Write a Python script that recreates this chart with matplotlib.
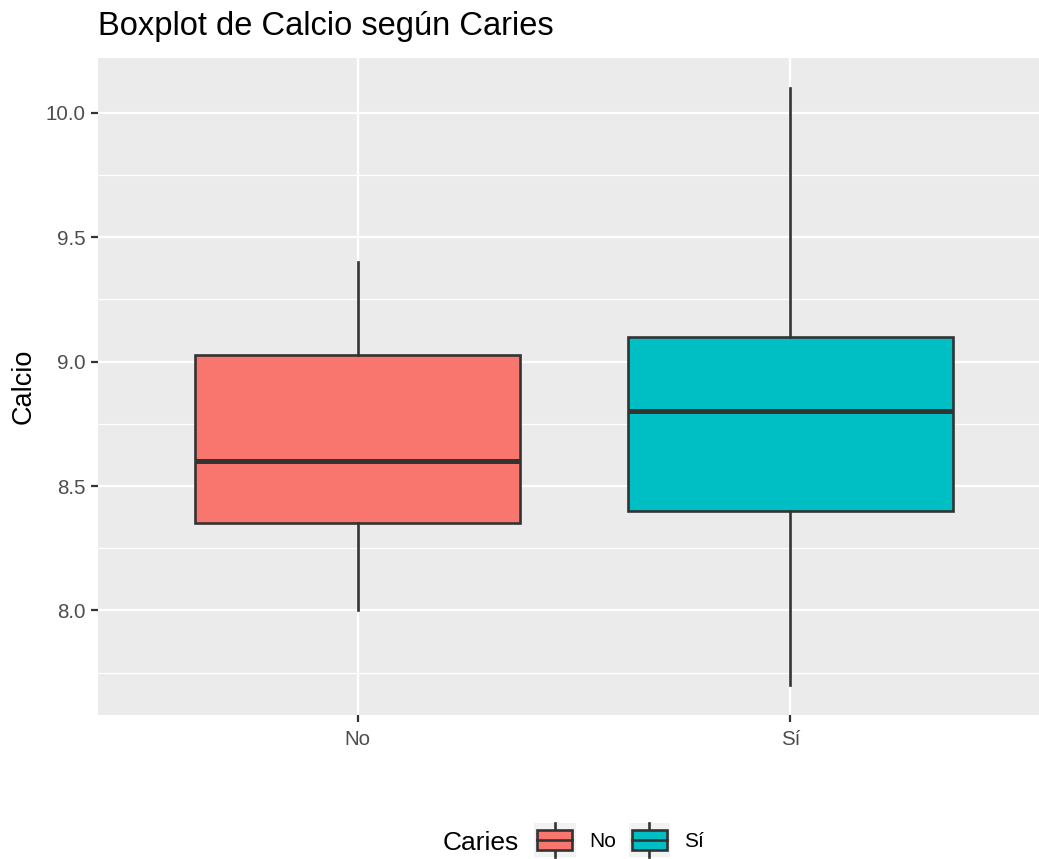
import matplotlib
matplotlib.use("Agg")
import matplotlib.pyplot as plt
from matplotlib.legend_handler import HandlerBase
from matplotlib.patches import Rectangle
from matplotlib.lines import Line2D

plt.rcParams["font.family"] = ["Liberation Sans", "DejaVu Sans"]

# Five-number summaries of Calcio per Caries group
categories = ["No", "Sí"]
whisker_low = [8.00, 7.70]
q1 = [8.35, 8.40]
median = [8.60, 8.80]
q3 = [9.025, 9.10]
whisker_high = [9.40, 10.10]
fill_colors = ["#F8766D", "#00BFC4"]
y_ticks = [8.0, 8.5, 9.0, 9.5, 10.0]
y_minor = [7.75, 8.25, 8.75, 9.25, 9.75]

W, H = 1039, 859
fig = plt.figure(figsize=(W / 100, H / 100), dpi=100)
fig.patch.set_facecolor("white")

# panel runs slightly past the right edge of the canvas
left, right, top, bottom = 98, 1050, 58, 715
ax = fig.add_axes([left / W, 1 - bottom / H, (right - left) / W, (bottom - top) / H])
ax.set_facecolor("#EBEBEB")
for s in ax.spines.values():
    s.set_visible(False)

dark = "#333333"
stats = []
for i, c in enumerate(categories):
    stats.append(dict(label=c, whislo=whisker_low[i], q1=q1[i], med=median[i],
                      q3=q3[i], whishi=whisker_high[i], fliers=[]))
positions = list(range(1, len(categories) + 1))

# grid
for y in y_minor:
    ax.axhline(y, color="white", lw=0.9, zorder=0)
for y in y_ticks:
    ax.axhline(y, color="white", lw=1.6, zorder=0)
for x in positions:
    ax.axvline(x, color="white", lw=1.6, zorder=0)

bp = ax.bxp(stats, positions=positions, widths=0.75, patch_artist=True,
            showcaps=False, showfliers=False,
            boxprops=dict(edgecolor=dark, linewidth=1.9),
            whiskerprops=dict(color=dark, linewidth=1.9),
            medianprops=dict(color=dark, linewidth=3.6, solid_capstyle="butt"),
            zorder=2)
for patch, col in zip(bp["boxes"], fill_colors):
    patch.set_facecolor(col)

ax.set_xlim(0.4, 2.6)
ax.set_ylim(7.58, 10.22)
ax.set_yticks(y_ticks)
ax.set_yticklabels([f"{v:.1f}" for v in y_ticks])
ax.set_xticks(positions)
ax.set_xticklabels(categories)
ax.tick_params(axis="both", colors=dark, length=5, width=1.6, labelsize=14.8,
               labelcolor="#4D4D4D", pad=4)
ax.tick_params(axis="x", pad=5.5)
ax.set_ylabel("Calcio", fontsize=19.5, color="black", labelpad=6.5)
ax.set_xlabel("")

fig.text(left / W, 1 - 27 / H, "Boxplot de Calcio según Caries", fontsize=23.5,
         color="black", ha="left", va="center")


class BoxKeyHandler(HandlerBase):
    def __init__(self, color):
        super().__init__()
        self.color = color

    def create_artists(self, legend, orig_handle, xdescent, ydescent, width,
                       height, fontsize, trans):
        arts = []
        bg = Rectangle((-xdescent, -ydescent), width, height, facecolor="#F2F2F2",
                       edgecolor="none", transform=trans)
        arts.append(bg)
        bx0 = -xdescent + width * 0.08
        bw = width * 0.84
        by0 = -ydescent + height * 0.2
        bh = height * 0.6
        box = Rectangle((bx0, by0), bw, bh, facecolor=self.color, edgecolor=dark,
                        linewidth=1.9, transform=trans)
        cx = -xdescent + width / 2
        med = Line2D([bx0, bx0 + bw], [by0 + bh / 2] * 2, color=dark, lw=1.9,
                     transform=trans)
        w1 = Line2D([cx, cx], [-ydescent, by0], color=dark, lw=1.9, transform=trans)
        w2 = Line2D([cx, cx], [by0 + bh, -ydescent + height], color=dark, lw=1.9,
                    transform=trans)
        arts += [w1, w2, box, med]
        return arts


handles = [Rectangle((0, 0), 1, 1) for _ in categories]
handler_map = {h: BoxKeyHandler(c) for h, c in zip(handles, fill_colors)}
leg = fig.legend(handles, categories, handler_map=handler_map, ncol=len(categories),
                 loc="center left", bbox_to_anchor=(534 / W, 1 - 840 / H),
                 frameon=False, fontsize=15, handlelength=2.0, handleheight=2.1,
                 handletextpad=0.65, columnspacing=0.6, borderpad=0,
                 borderaxespad=0)
fig.text(443 / W, 1 - 843 / H, "Caries", fontsize=19, ha="left", va="center")

fig.savefig("out.png", dpi=100, facecolor="white")
